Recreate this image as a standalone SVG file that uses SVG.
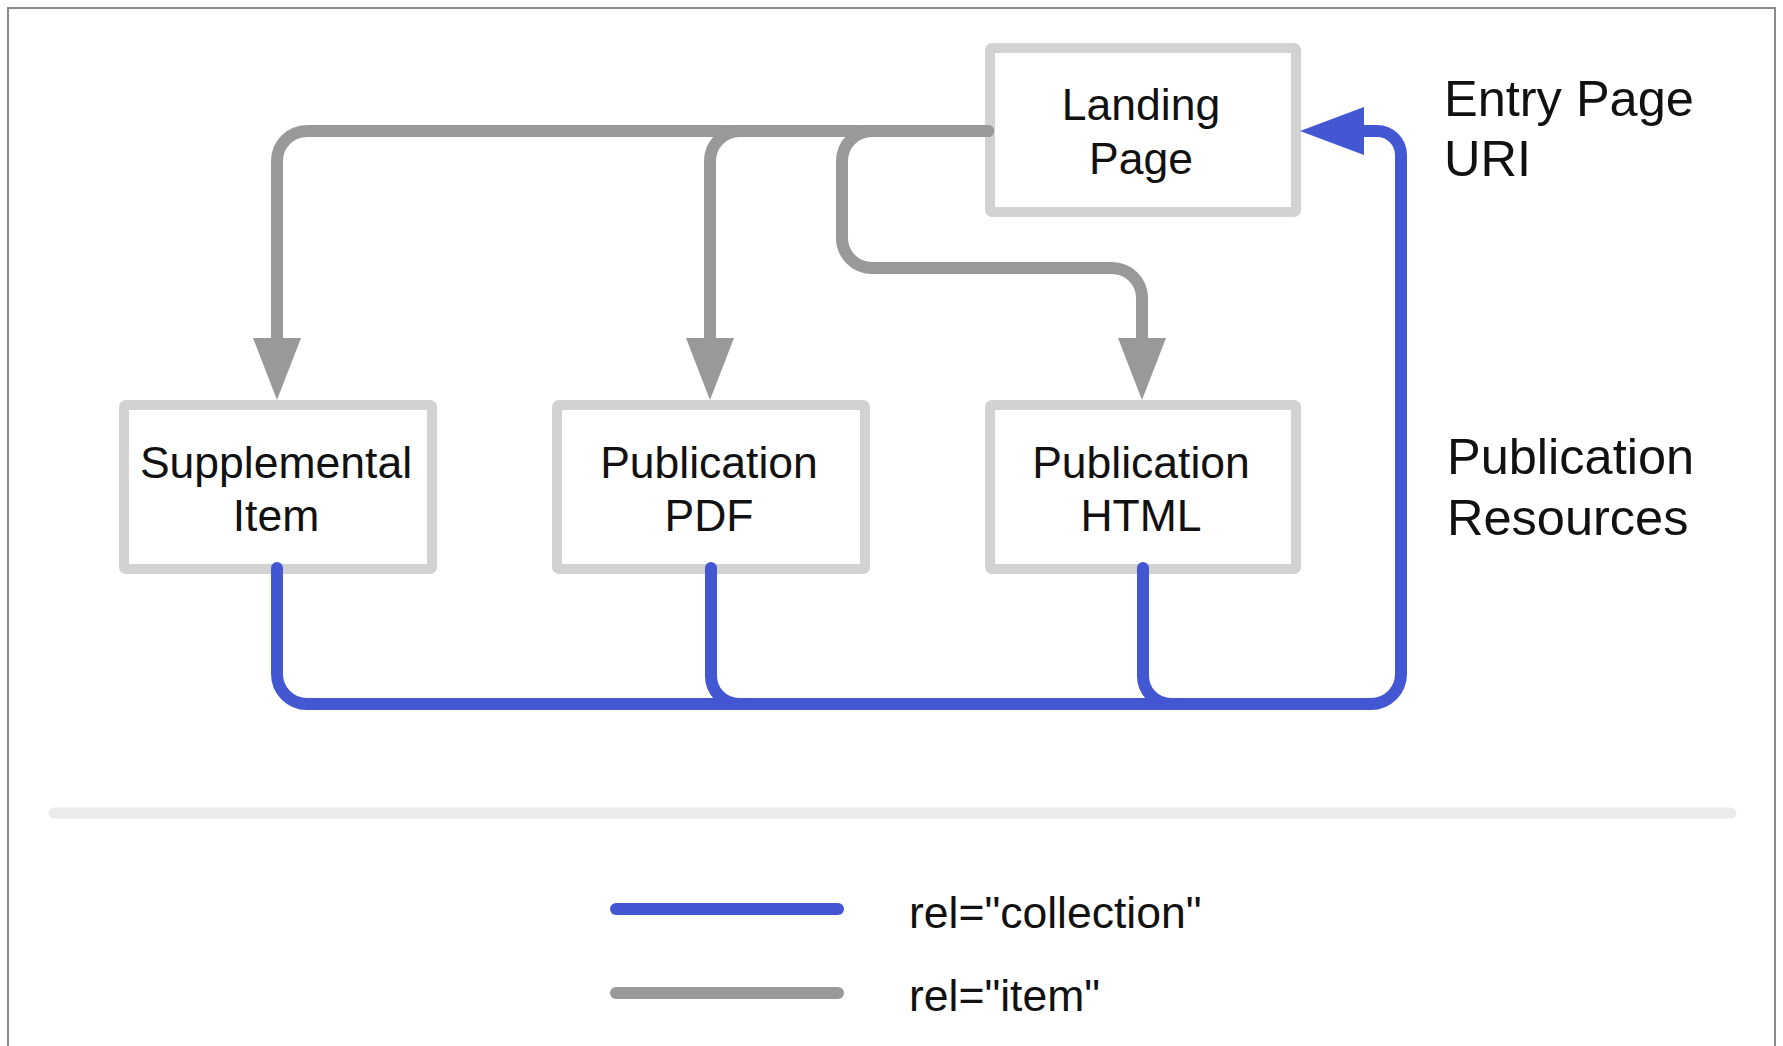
<svg xmlns="http://www.w3.org/2000/svg" width="1783" height="1046" viewBox="0 0 1783 1046">
  <style>
    .frame { fill: #ffffff; stroke: #8a8a8a; stroke-width: 2; }
    .node rect { fill: #ffffff; stroke: #d2d2d2; stroke-width: 10; }
    .node text, .label, .legend-text { font-family: "Liberation Sans", Arial, Helvetica, sans-serif; fill: #111111; }
    .node text { font-size: 44.5px; text-anchor: middle; }
    .label { font-size: 50.5px; }
    .legend-text { font-size: 44.5px; }
    .item { fill: none; stroke: #999999; stroke-width: 12; stroke-linecap: round; stroke-linejoin: round; }
    .collection { fill: none; stroke: #4357d3; stroke-width: 12; stroke-linecap: round; stroke-linejoin: round; }
    .divider { stroke: #ebebeb; stroke-width: 11; stroke-linecap: round; }
  </style>
  <defs>
    <marker id="arrow-item" markerUnits="userSpaceOnUse" viewBox="0 0 62 48" markerWidth="62" markerHeight="48" refX="0" refY="24" orient="auto">
      <path d="M0,0 L62,24 L0,48 Z" fill="#999999"/>
    </marker>
    <marker id="arrow-collection" markerUnits="userSpaceOnUse" viewBox="0 0 64 48" markerWidth="64" markerHeight="48" refX="0" refY="24" orient="auto">
      <path d="M0,0 L64,24 L0,48 Z" fill="#4357d3"/>
    </marker>
  </defs>

  <rect class="frame" x="8" y="8" width="1767" height="1100"/>

  <!-- resource boxes -->
  <g id="landing-page" class="node">
    <rect x="990" y="48" width="306" height="164" rx="2"/>
    <text x="1141" y="120">Landing</text>
    <text x="1141" y="174">Page</text>
  </g>
  <g id="supplemental-item" class="node">
    <rect x="124" y="405" width="308" height="164" rx="2"/>
    <text x="276" y="478">Supplemental</text>
    <text x="276" y="531">Item</text>
  </g>
  <g id="publication-pdf" class="node">
    <rect x="557" y="405" width="308" height="164" rx="2"/>
    <text x="709" y="478">Publication</text>
    <text x="709" y="531">PDF</text>
  </g>
  <g id="publication-html" class="node">
    <rect x="990" y="405" width="306" height="164" rx="2"/>
    <text x="1141" y="478">Publication</text>
    <text x="1141" y="531">HTML</text>
  </g>

  <!-- links -->
  <g id="connectors">
    <!-- rel="item" from the landing page -->
    <path class="item" d="M988,131 H307 A30,30 0 0 0 277,161 V338" marker-end="url(#arrow-item)"/>
    <path class="item" d="M988,131 H740 A30,30 0 0 0 710,161 V338" marker-end="url(#arrow-item)"/>
    <path class="item" d="M988,131 H872 A30,30 0 0 0 842,161 V238 A30,30 0 0 0 872,268 H1112 A30,30 0 0 1 1142,298 V338" marker-end="url(#arrow-item)"/>
    <!-- rel="collection" back to the landing page -->
    <path class="collection" d="M277,568 V674 A30,30 0 0 0 307,704 H1371 A30,30 0 0 0 1401,674 V155 A24,24 0 0 0 1377,131 H1364" marker-end="url(#arrow-collection)"/>
    <path class="collection" d="M711,568 V676 A28,28 0 0 0 739,704 H780"/>
    <path class="collection" d="M1143,568 V676 A28,28 0 0 0 1171,704 H1210"/>
  </g>

  <!-- side labels -->
  <text class="label" x="1444" y="116">Entry Page</text>
  <text class="label" x="1444" y="176">URI</text>
  <text class="label" x="1447" y="474">Publication</text>
  <text class="label" x="1447" y="535">Resources</text>

  <line class="divider" x1="54" y1="813" x2="1731" y2="813"/>

  <!-- legend -->
  <g id="legend">
    <line class="collection" x1="616" y1="909" x2="838" y2="909"/>
    <text class="legend-text" x="909" y="928">rel="collection"</text>
    <line class="item" x1="616" y1="993" x2="838" y2="993"/>
    <text class="legend-text" x="909" y="1011">rel="item"</text>
  </g>
</svg>
